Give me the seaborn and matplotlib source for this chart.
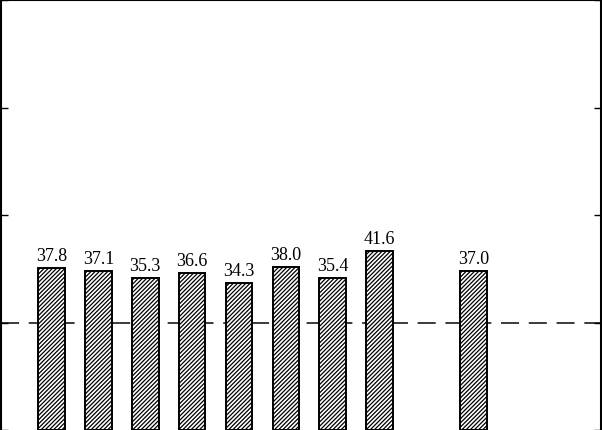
import matplotlib
matplotlib.use("Agg")
import matplotlib.pyplot as plt
import seaborn as sns
import pandas as pd

# Data
positions = [0, 1, 2, 3, 4, 5, 6, 7, 9]
values = [37.8, 37.1, 35.3, 36.6, 34.3, 38.0, 35.4, 41.6, 37.0]
reference_level = 25
yticks = [0, 25, 50, 75, 100]

sns.set_theme(style="white")
plt.rcParams['font.family'] = ['Liberation Serif', 'DejaVu Serif']
plt.rcParams['lines.scale_dashes'] = False
plt.rcParams['hatch.linewidth'] = 0.9
plt.rcParams['hatch.color'] = 'black'

df = pd.DataFrame({"pos": positions, "value": values})

fig = plt.figure(figsize=(6.02, 4.31), dpi=100)
ax = fig.add_axes([0.001, -0.001, 0.997, 0.999])

sns.barplot(data=df, x="pos", y="value", native_scale=True, width=0.57,
            color="white", edgecolor="black", linewidth=1.4, hatch="////////",
            errorbar=None, ax=ax)
for p in ax.patches:
    p.set_facecolor("white")
    p.set_edgecolor("black")

ax.bar_label(ax.containers[0], fmt="%.1f", padding=3, fontsize=13,
             color="black", family=['Liberation Serif', 'DejaVu Serif'])

ax.axhline(reference_level, color="#1a1a1a", linewidth=1.2,
           linestyle=(0, (13, 7)), zorder=0)

ax.set_xlim(-1.087, 11.72)
ax.set_ylim(0, 100)
ax.set_yticks(yticks)
ax.set_xticks([])
ax.tick_params(axis="y", direction="in", left=True, right=True, length=5,
               width=1.0, labelleft=False, labelright=False, color="black")
ax.set_xlabel("")
ax.set_ylabel("")
for side in ["left", "right", "top"]:
    ax.spines[side].set_visible(True)
    ax.spines[side].set_color("black")
    ax.spines[side].set_linewidth(1.5)
ax.spines["bottom"].set_visible(False)

fig.savefig("out.png", dpi=100)
